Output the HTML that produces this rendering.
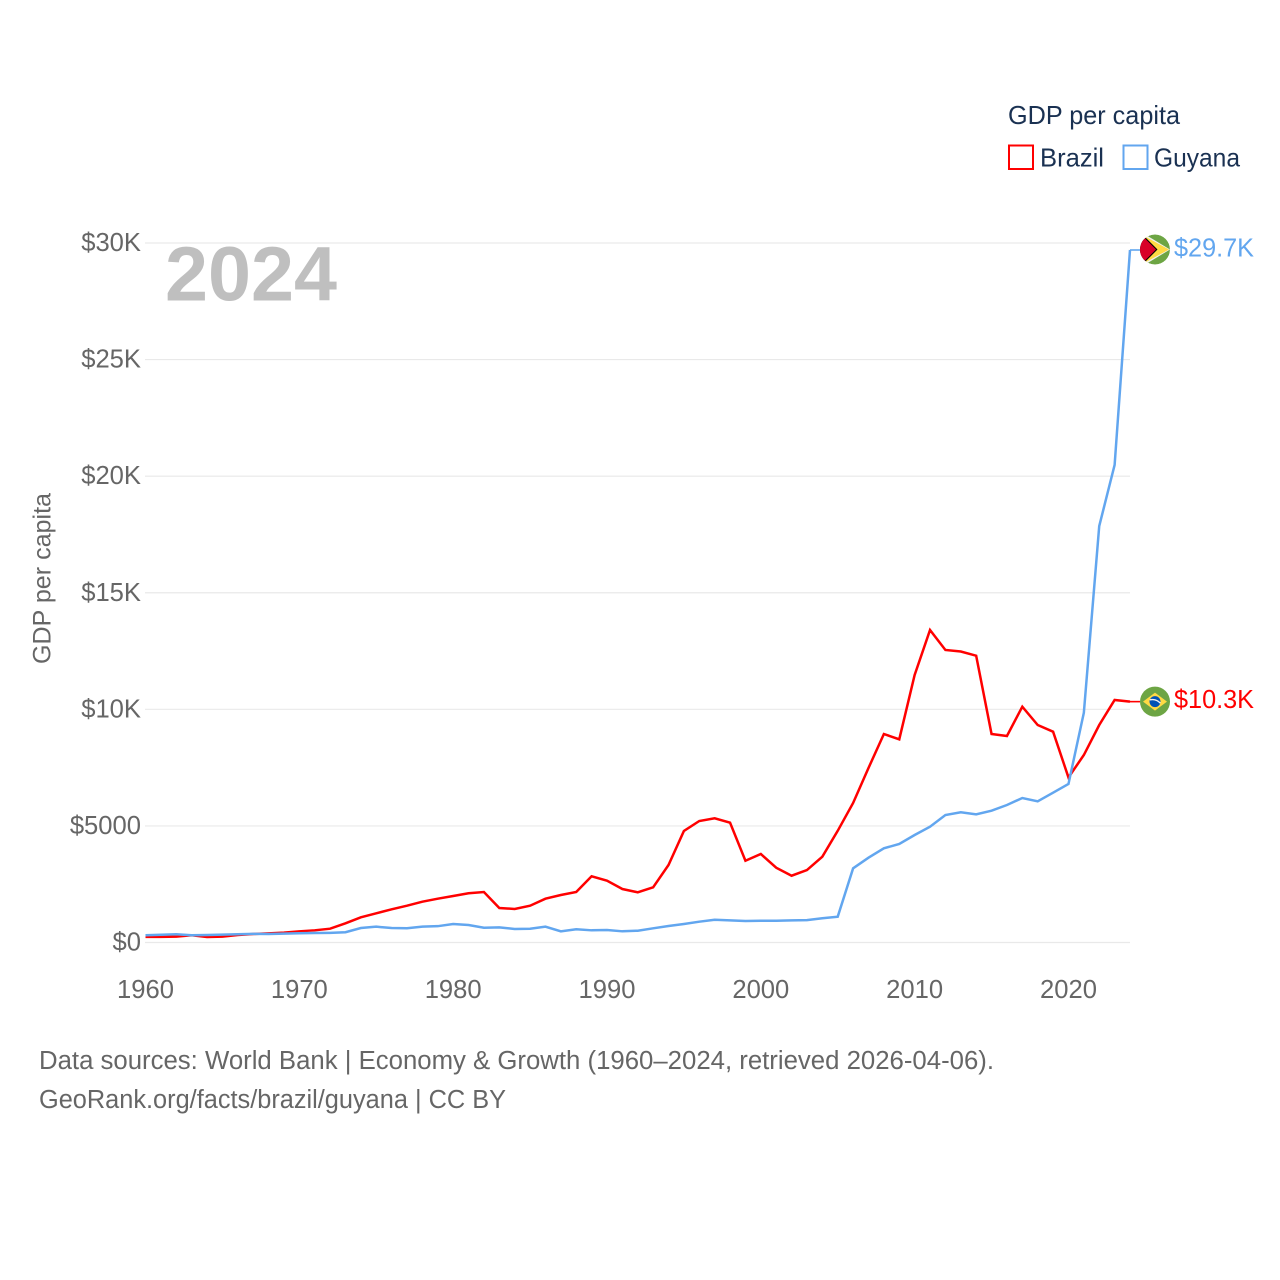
<!DOCTYPE html>
<html lang="en">
<head>
<meta charset="utf-8">
<title>GDP per capita: Brazil and Guyana</title>
<style>
html,body{margin:0;padding:0;background:#fff}
svg{display:block}
text{font-family:"Liberation Sans",sans-serif}
</style>
</head>
<body>
<svg id="chart" xmlns="http://www.w3.org/2000/svg" width="1280" height="1280" viewBox="0 0 1280 1280">
  <rect width="1280" height="1280" fill="#fff"/>
  <g id="grid"></g>
  <g id="yticks"></g>
  <g id="xticks"></g>
  <text x="165" y="300.5" font-size="77" font-weight="700" fill="#bfbfbf" textLength="172" lengthAdjust="spacingAndGlyphs">2024</text>
  <text transform="translate(50.5 578.5) rotate(-90)" text-anchor="middle" font-size="25" fill="#666" textLength="171" lengthAdjust="spacingAndGlyphs">GDP per capita</text>
  <g id="series"></g>
  <g id="endmarks"></g>
  <g>
    <text x="1008" y="124" font-size="26" fill="#1a3152" textLength="172" lengthAdjust="spacingAndGlyphs">GDP per capita</text>
    <rect x="1009" y="145.5" width="24" height="23.5" fill="#fff" stroke="#f00" stroke-width="2"/>
    <text x="1040" y="166.5" font-size="26" fill="#1a3152" textLength="64" lengthAdjust="spacingAndGlyphs">Brazil</text>
    <rect x="1123.5" y="145.5" width="24" height="23.5" fill="#fff" stroke="#62a6ef" stroke-width="2"/>
    <text x="1154" y="166.5" font-size="26" fill="#1a3152" textLength="86" lengthAdjust="spacingAndGlyphs">Guyana</text>
  </g>
  <text x="39" y="1069" font-size="25.5" fill="#666" textLength="955" lengthAdjust="spacingAndGlyphs">Data sources: World Bank | Economy &amp; Growth (1960–2024, retrieved 2026-04-06).</text>
  <text x="39" y="1108" font-size="25.5" fill="#666" textLength="467" lengthAdjust="spacingAndGlyphs">GeoRank.org/facts/brazil/guyana | CC BY</text>
</svg>
<script>
const startYear = 1960;
const yTickValues = [0, 5000, 10000, 15000, 20000, 25000, 30000];
const yTickLabels = ["$0", "$5000", "$10K", "$15K", "$20K", "$25K", "$30K"];
const xTickValues = [1960, 1970, 1980, 1990, 2000, 2010, 2020];
const xTickLabels = ["1960", "1970", "1980", "1990", "2000", "2010", "2020"];
const brazilValues = [240, 240, 250, 309, 236, 250, 322, 365, 393, 422, 480, 523, 592, 823, 1080, 1252, 1424, 1578, 1750, 1879, 1994, 2110, 2166, 1480, 1437, 1578, 1879, 2037, 2166, 2839, 2650, 2294, 2153, 2367, 3324, 4782, 5211, 5326, 5138, 3508, 3796, 3208, 2865, 3109, 3680, 4790, 5983, 7484, 8942, 8714, 11472, 13402, 12545, 12480, 12300, 8942, 8856, 10113, 9328, 9040, 7080, 8041, 9328, 10400, 10330];
const guyanaValues = [309, 335, 352, 309, 320, 340, 355, 370, 365, 380, 395, 405, 415, 440, 622, 678, 620, 610, 680, 700, 793, 750, 635, 650, 579, 592, 678, 480, 566, 523, 536, 480, 506, 609, 708, 793, 892, 978, 950, 922, 935, 935, 950, 960, 1038, 1107, 3181, 3637, 4040, 4224, 4610, 4967, 5468, 5583, 5497, 5653, 5897, 6197, 6055, 6425, 6798, 9855, 17860, 20480, 29700];
const brazilEndLabel = "$10.3K";
const guyanaEndLabel = "$29.7K";

const NS = "http://www.w3.org/2000/svg";
function xScale(year) { return 145.5 + (year - 1960) * (1130 - 145.5) / 64; }
function yScale(v) { return 942.5 - v * (942.5 - 243) / 30000; }
function make(tag, parent, attrs) {
  const el = document.createElementNS(NS, tag);
  for (const k in attrs) el.setAttribute(k, attrs[k]);
  parent.appendChild(el);
  return el;
}
function linePoints(values) {
  return values.map(function (v, i) {
    return xScale(startYear + i).toFixed(2) + "," + yScale(v).toFixed(2);
  }).join(" ");
}

const grid = document.getElementById("grid");
const yticks = document.getElementById("yticks");
yTickValues.forEach(function (v, i) {
  const gl = make("line", grid, { x1: 145, x2: 1130, y1: yScale(v), y2: yScale(v), stroke: "#e9e9e9", "stroke-width": 1.2 });
  
  
  const t = make("text", yticks, { x: 141, y: yScale(v) + 8, "text-anchor": "end", "font-size": 25.6, fill: "#666" });
  t.textContent = yTickLabels[i];
  
  
});

const xticks = document.getElementById("xticks");
xTickValues.forEach(function (yr, i) {
  const t = make("text", xticks, { x: xScale(yr), y: 998, "text-anchor": "middle", "font-size": 25.6, fill: "#666" });
  t.textContent = xTickLabels[i];
  
  
});

const series = document.getElementById("series");
const brazilLine = make("polyline", series, { points: linePoints(brazilValues), fill: "none", stroke: "#f00", "stroke-width": 2.5, "stroke-linejoin": "miter" });


const guyanaLine = make("polyline", series, { points: linePoints(guyanaValues), fill: "none", stroke: "#62a6ef", "stroke-width": 2.5, "stroke-linejoin": "miter" });



const endmarks = document.getElementById("endmarks");
const xEnd = xScale(startYear + brazilValues.length - 1);
const yB = yScale(brazilValues[brazilValues.length - 1]);
const yG = yScale(guyanaValues[guyanaValues.length - 1]);

const leaderB = make("line", endmarks, { x1: xEnd, x2: xEnd + 10, y1: yB, y2: yB, stroke: "#f00", "stroke-width": 1.6 });


const leaderG = make("line", endmarks, { x1: xEnd, x2: xEnd + 10, y1: yG, y2: yG, stroke: "#62a6ef", "stroke-width": 1.6 });



const defs = make("defs", endmarks, {});
const clip = make("clipPath", defs, { id: "flag-clip" });
make("circle", clip, { cx: 0, cy: 0, r: 15 });

const flagB = make("g", endmarks, { transform: "translate(1155 " + yB.toFixed(2) + ")" });


make("circle", flagB, { r: 15, fill: "#6da544" });
make("polygon", flagB, { points: "0,-9 12,0 0,9 -12,0", fill: "#ffda44" });
make("circle", flagB, { r: 5.5, fill: "#0052b4" });
make("path", flagB, { d: "M-5.2,-1.8 A11,11 0 0 1 5.4,1.5", fill: "none", stroke: "#f0f0f0", "stroke-width": 1.4 });

const flagG = make("g", endmarks, { transform: "translate(1155 " + (yG - 0.5).toFixed(2) + ")", "clip-path": "url(#flag-clip)" });


make("circle", flagG, { r: 15, fill: "#6da544" });
make("polygon", flagG, { points: "-9,-14.5 15,0 -9,14.5", fill: "#f0f0f0" });
make("polygon", flagG, { points: "-9,-12.5 14,0 -9,12.5", fill: "#ffda44" });
make("polygon", flagG, { points: "-16,-12.5 -10,-12.5 2.5,0 -10,12.5 -16,12.5", fill: "#000" });
make("polygon", flagG, { points: "-16,-12 -11,-12 1,0 -11,12 -16,12", fill: "#d80027" });

const labelB = make("text", endmarks, { x: 1174, y: yB + 6.5, "font-size": 26, fill: "#f00", textLength: 80, lengthAdjust: "spacingAndGlyphs" });
labelB.textContent = brazilEndLabel;


const labelG = make("text", endmarks, { x: 1174, y: yG + 6.5, "font-size": 26, fill: "#62a6ef", textLength: 80, lengthAdjust: "spacingAndGlyphs" });
labelG.textContent = guyanaEndLabel;


</script>
</body>
</html>
